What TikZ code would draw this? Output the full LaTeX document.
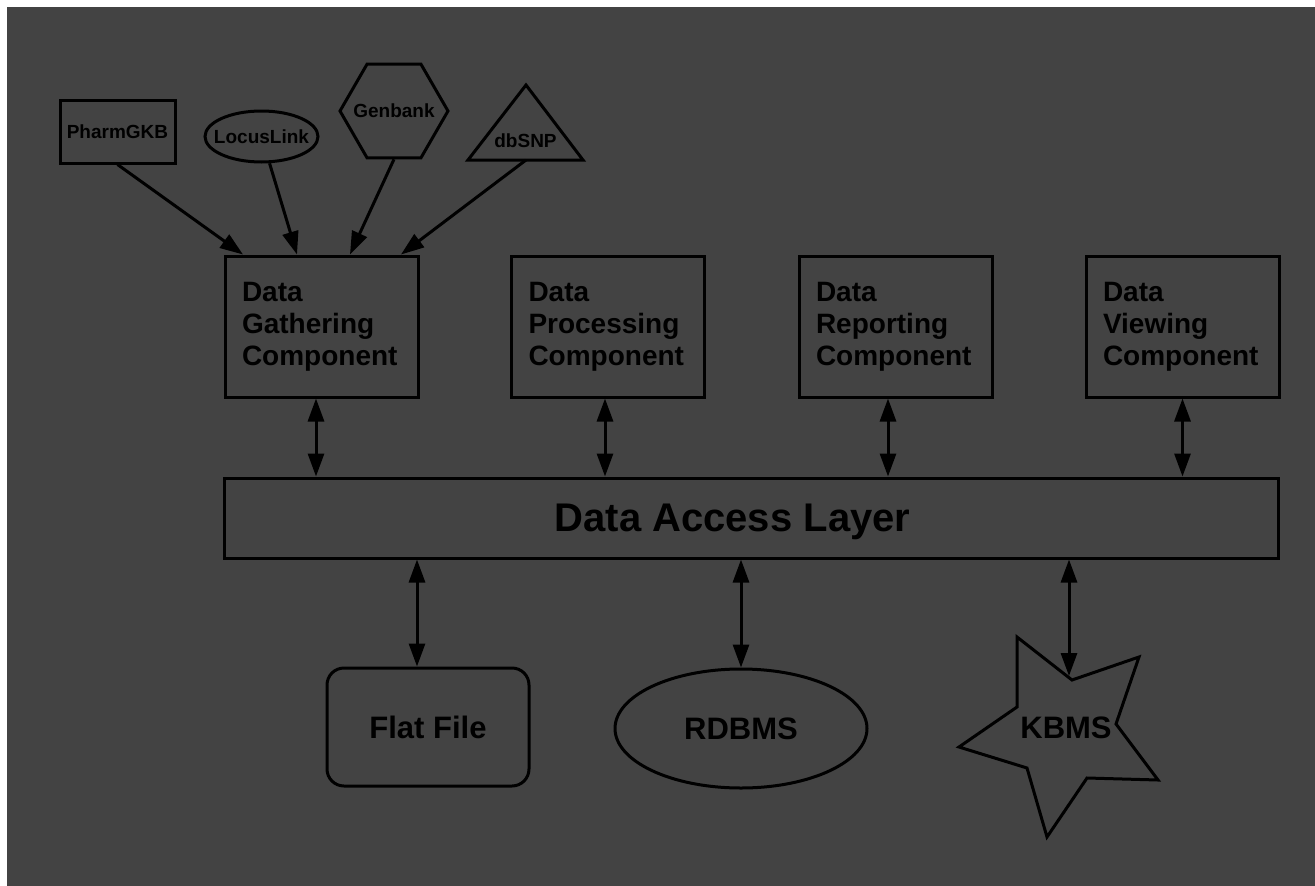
\documentclass[tikz,border=0pt]{standalone}
\usepackage{fontspec}
\setmainfont{Liberation Sans}
\usetikzlibrary{arrows.meta,shapes.geometric}

\definecolor{bggray}{HTML}{434343}

\tikzset{
    comp/.style={draw, line width=3pt, minimum width=193pt, minimum height=141pt,
        text width=159pt, inner xsep=17pt, align=left,
        font=\fontsize{28}{32}\selectfont\bfseries},
    srctext/.style={font=\fontsize{19}{22}\selectfont\bfseries},
    src/.style={draw, line width=3pt, inner sep=1pt, srctext},
    storetext/.style={font=\fontsize{31}{36}\selectfont\bfseries},
    store/.style={draw, line width=3pt, storetext},
    arr/.style={line width=3pt, -{Triangle[length=23pt,width=16pt]}},
    biarr/.style={line width=3pt, {Triangle[length=23pt,width=16pt]}-{Triangle[length=23pt,width=16pt]}},
}

\begin{document}
\begin{tikzpicture}[x=1pt, y=-1pt]
        \useasboundingbox (0,0) rectangle (1315,886);
        \fill [bggray] (7,7) rectangle (1315,886);

        % sources
        \node [src, minimum width=115pt, minimum height=63pt] (pharm) at (117.5,131.5) {PharmGKB};
        \node [src, ellipse, minimum width=113pt, minimum height=51pt,
            label={[srctext]center:LocusLink}] (locus) at (261.5,136.5) {};
        \node [src, regular polygon, regular polygon sides=6, minimum size=108pt,
            label={[srctext]center:Genbank}] (genbank) at (394,111) {};
        \draw [line width=3pt, line join=miter] (468,160) -- (526,85) -- (583,160) -- cycle;
        \node [srctext, anchor=base] (dbsnp) at (525.5,147.5) {dbSNP};
        \coordinate (dbsnpbase) at (526,160);

        % components
        \node [comp] (gather) at (321.5,326.5) {Data\\Gathering\\Component};
        \node [comp] (process) at (608,326.5) {Data\\Processing\\Component};
        \node [comp] (report) at (895.5,326.5) {Data\\Reporting\\Component};
        \node [comp] (view) at (1182.5,326.5) {Data\\Viewing\\Component};

        \node [draw, line width=3pt, minimum width=1054pt, minimum height=80pt,
            label={[font=\fontsize{40}{48}\selectfont\bfseries, xshift=-18.5pt, yshift=-3.5pt]center:Data Access Layer}] (dal) at (751,518) {};

        % stores
        \node [store, rounded corners=17pt, minimum width=202pt, minimum height=118pt] (flat) at (428,727) {Flat File};
        \node [store, ellipse, minimum width=252pt, minimum height=119pt] (rdbms) at (741,728.5) {RDBMS};
        \draw [line width=3pt, line join=miter] (1017,637) -- (1072,680) -- (1139,657) -- (1116,724)
            -- (1158,780) -- (1087,778) -- (1047,837) -- (1027,768) -- (959,747) -- (1017,707) -- cycle;
        \node [storetext, anchor=base] (kbms) at (1066,738) {KBMS};
        \coordinate (kbmstop) at (1069,676);

        \draw [arr] (pharm.south) -- ([xshift=-78.5pt]gather.north);
        \draw [arr] (locus) -- ([xshift=-24.5pt]gather.north);
        \draw [arr] (genbank.south) -- ([xshift=28.5pt]gather.north);
        \draw [arr] (dbsnpbase) -- ([xshift=79.5pt]gather.north);

        \draw [biarr] ([xshift=-5.5pt]gather.south) -- ([xshift=-5.5pt]gather.south |- dal.north);
        \draw [biarr] ([xshift=-3pt]process.south) -- ([xshift=-3pt]process.south |- dal.north);
        \draw [biarr] ([xshift=-7.5pt]report.south) -- ([xshift=-7.5pt]report.south |- dal.north);
        \draw [biarr] (view.south) -- (view.south |- dal.north);

        \draw [biarr] ([xshift=-11pt]dal.south -| flat.north) -- ([xshift=-11pt]flat.north);
        \draw [biarr] (dal.south -| rdbms.north) -- (rdbms.north);
        \draw [biarr] (dal.south -| kbmstop) -- (kbmstop);

    \end{tikzpicture}
\end{document}
